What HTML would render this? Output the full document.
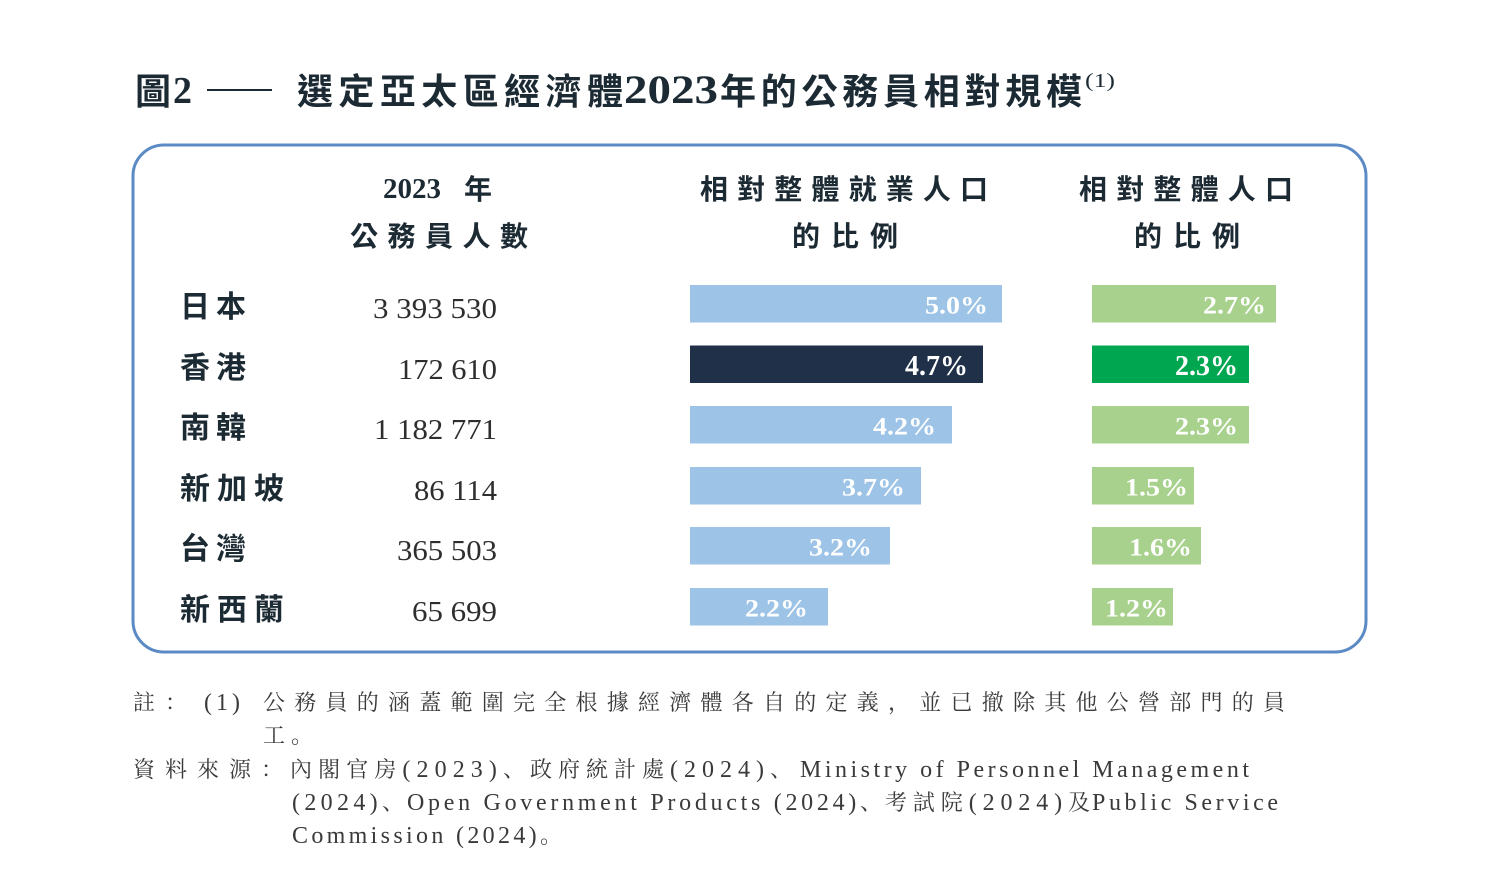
<!DOCTYPE html>
<html>
<head>
<meta charset="utf-8">
<style>
html,body{margin:0;padding:0;background:#fff;}
svg{display:block;}
.cjkb{font-family:"Liberation Sans","Noto Sans CJK TC",sans-serif;font-weight:bold;fill:#1c2a33;}
.serb{font-family:"Liberation Serif","Noto Serif CJK SC",serif;font-weight:bold;}
.num{font-family:"Liberation Serif",serif;fill:#2e2e2e;font-size:29px;}
.lbl{font-family:"Liberation Serif",serif;font-weight:bold;fill:#fff;font-size:25px;}
.lblh{font-family:"Liberation Serif",serif;font-weight:bold;fill:#fff;font-size:28px;}
.fn{font-family:"Liberation Serif","Noto Serif CJK SC",serif;fill:#3a3a3a;font-size:24px;}
.fc{font-size:22px;}
</style>
</head>
<body>
<svg width="1500" height="891" viewBox="0 0 1500 891" xmlns="http://www.w3.org/2000/svg">
<rect x="0" y="0" width="1500" height="891" fill="#fff"/>

<!-- Title -->
<text class="cjkb" x="135" y="104" font-size="36">圖</text>
<text class="serb" x="173" y="103" font-size="38" fill="#1c2a33">2</text>
<line x1="207" y1="90" x2="272" y2="90" stroke="#1c2a33" stroke-width="2"/>
<text class="cjkb" x="297" y="104" font-size="36" textLength="326" lengthAdjust="spacing">選定亞太區經濟體</text>
<text class="serb" x="624" y="103" font-size="40" fill="#1c2a33" textLength="94" lengthAdjust="spacingAndGlyphs">2023</text>
<text class="cjkb" x="720" y="104" font-size="36" textLength="362" lengthAdjust="spacing">年的公務員相對規模</text>
<text x="1085" y="87" font-family="Liberation Serif" font-size="20" fill="#1c2a33" textLength="30" lengthAdjust="spacingAndGlyphs">(1)</text>

<!-- Box -->
<rect x="133" y="145" width="1233" height="507" rx="31" ry="31" fill="#fff" stroke="#5b8ac4" stroke-width="3"/>

<!-- Headers -->
<text class="serb" x="383" y="198" font-size="29" fill="#1c2a33" textLength="58" lengthAdjust="spacing">2023</text>
<text class="cjkb" x="464" y="199" font-size="28">年</text>
<text class="cjkb" x="350" y="246" font-size="28" textLength="178" lengthAdjust="spacing">公務員人數</text>
<text class="cjkb" x="700" y="199" font-size="28" textLength="288" lengthAdjust="spacing">相對整體就業人口</text>
<text class="cjkb" x="792" y="246" font-size="28" textLength="106" lengthAdjust="spacing">的比例</text>
<text class="cjkb" x="1079" y="199" font-size="28" textLength="214" lengthAdjust="spacing">相對整體人口</text>
<text class="cjkb" x="1134" y="246" font-size="28" textLength="106" lengthAdjust="spacing">的比例</text>

<!-- Row labels -->
<text class="cjkb" x="180" y="317" font-size="30" textLength="66" lengthAdjust="spacing">日本</text>
<text class="cjkb" x="180" y="378" font-size="30" textLength="66" lengthAdjust="spacing">香港</text>
<text class="cjkb" x="180" y="438" font-size="30" textLength="66" lengthAdjust="spacing">南韓</text>
<text class="cjkb" x="180" y="499" font-size="30" textLength="104" lengthAdjust="spacing">新加坡</text>
<text class="cjkb" x="180" y="559" font-size="30" textLength="66" lengthAdjust="spacing">台灣</text>
<text class="cjkb" x="180" y="620" font-size="30" textLength="104" lengthAdjust="spacing">新西蘭</text>

<!-- Numbers -->
<text class="num" x="373" y="318" textLength="124" lengthAdjust="spacingAndGlyphs">3 393 530</text>
<text class="num" x="398" y="379" textLength="99" lengthAdjust="spacingAndGlyphs">172 610</text>
<text class="num" x="374" y="439" textLength="123" lengthAdjust="spacingAndGlyphs">1 182 771</text>
<text class="num" x="414" y="500" textLength="83" lengthAdjust="spacingAndGlyphs">86 114</text>
<text class="num" x="397" y="560" textLength="100" lengthAdjust="spacingAndGlyphs">365 503</text>
<text class="num" x="412" y="621" textLength="85" lengthAdjust="spacingAndGlyphs">65 699</text>

<!-- Blue bars -->
<rect x="690" y="285" width="312" height="37.5" fill="#9dc3e6"/>
<rect x="690" y="345.5" width="293" height="37.5" fill="#1f3048"/>
<rect x="690" y="406" width="262" height="37.5" fill="#9dc3e6"/>
<rect x="690" y="467" width="231" height="37.5" fill="#9dc3e6"/>
<rect x="690" y="527" width="200" height="37.5" fill="#9dc3e6"/>
<rect x="690" y="588" width="138" height="37.5" fill="#9dc3e6"/>

<text class="lbl" x="925" y="313.5" textLength="63" lengthAdjust="spacingAndGlyphs">5.0%</text>
<text class="lblh" x="905" y="375" textLength="63" lengthAdjust="spacingAndGlyphs">4.7%</text>
<text class="lbl" x="873" y="434.5" textLength="63" lengthAdjust="spacingAndGlyphs">4.2%</text>
<text class="lbl" x="842" y="495.5" textLength="63" lengthAdjust="spacingAndGlyphs">3.7%</text>
<text class="lbl" x="809" y="555.5" textLength="63" lengthAdjust="spacingAndGlyphs">3.2%</text>
<text class="lbl" x="745" y="616.5" textLength="63" lengthAdjust="spacingAndGlyphs">2.2%</text>

<!-- Green bars -->
<rect x="1092" y="285" width="184" height="37.5" fill="#a9d18e"/>
<rect x="1092" y="345.5" width="157" height="37.5" fill="#00a650"/>
<rect x="1092" y="406" width="157" height="37.5" fill="#a9d18e"/>
<rect x="1092" y="467" width="102" height="37.5" fill="#a9d18e"/>
<rect x="1092" y="527" width="109" height="37.5" fill="#a9d18e"/>
<rect x="1092" y="588" width="81" height="37.5" fill="#a9d18e"/>

<text class="lbl" x="1203" y="313.5" textLength="63" lengthAdjust="spacingAndGlyphs">2.7%</text>
<text class="lblh" x="1175" y="375" textLength="63" lengthAdjust="spacingAndGlyphs">2.3%</text>
<text class="lbl" x="1175" y="434.5" textLength="63" lengthAdjust="spacingAndGlyphs">2.3%</text>
<text class="lbl" x="1125" y="495.5" textLength="63" lengthAdjust="spacingAndGlyphs">1.5%</text>
<text class="lbl" x="1129" y="555.5" textLength="63" lengthAdjust="spacingAndGlyphs">1.6%</text>
<text class="lbl" x="1105" y="616.5" textLength="63" lengthAdjust="spacingAndGlyphs">1.2%</text>

<!-- Footnotes -->
<text class="fn fc" x="133" y="710" textLength="54" lengthAdjust="spacing">註：</text>
<text class="fn" x="204" y="710" textLength="36" lengthAdjust="spacing">(1)</text>
<text class="fn fc" x="263" y="710" textLength="1022" lengthAdjust="spacing">公務員的涵蓋範圍完全根據經濟體各自的定義，並已撤除其他公營部門的員</text>
<text class="fn fc" x="263" y="743" textLength="50" lengthAdjust="spacing">工。</text>
<text class="fn fc" x="133" y="777" textLength="150" lengthAdjust="spacing">資料來源：</text>
<text class="fn" x="290" y="777" textLength="235" lengthAdjust="spacing"><tspan class="fc">內閣官房</tspan>(2023)<tspan class="fc">、</tspan></text>
<text class="fn" x="530" y="777" textLength="262" lengthAdjust="spacing"><tspan class="fc">政府統計處</tspan>(2024)<tspan class="fc">、</tspan></text>
<text class="fn" x="800" y="777" textLength="449" lengthAdjust="spacing">Ministry of Personnel Management</text>
<text class="fn" x="292" y="810" textLength="112" lengthAdjust="spacing">(2024)<tspan class="fc">、</tspan></text>
<text class="fn" x="407" y="810" textLength="475" lengthAdjust="spacing">Open Government Products (2024)<tspan class="fc">、</tspan></text>
<text class="fn" x="885" y="810" textLength="205" lengthAdjust="spacing"><tspan class="fc">考試院</tspan>(2024)<tspan class="fc">及</tspan></text>
<text class="fn" x="1092" y="810" textLength="186" lengthAdjust="spacing">Public Service</text>
<text class="fn" x="292" y="843" textLength="270" lengthAdjust="spacing">Commission (2024)<tspan class="fc">。</tspan></text>
</svg>
</body>
</html>
